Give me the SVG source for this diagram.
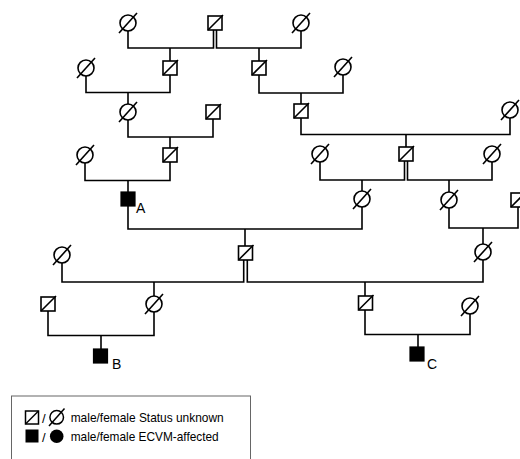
<svg xmlns="http://www.w3.org/2000/svg" xmlns:xlink="http://www.w3.org/1999/xlink" width="520" height="459" viewBox="0 0 520 459">
<style>
.ln{stroke:#000;stroke-width:1.6;fill:none}
.sym rect,.sym circle{fill:#fff;stroke:#000;stroke-width:1.6}
.sym line{stroke:#000;stroke-width:1.6}
.aff rect,.aff circle{fill:#000;stroke:#000;stroke-width:1.2}
.lbl{font-family:"Liberation Sans",Arial,sans-serif;font-size:14px;fill:#000}
.leg{font-family:"Liberation Sans",Arial,sans-serif;font-size:13px;fill:#000}
</style>
<defs>
<g id="male" class="sym"><rect x="-7" y="-7" width="14" height="14"/><line x1="-7" y1="7" x2="8" y2="-8"/></g>
<g id="female" class="sym"><circle r="8"/><line x1="-9" y1="10" x2="9" y2="-10"/></g>
<g id="maleA" class="aff"><rect x="-7" y="-7" width="14" height="14"/></g>
</defs>
<rect width="520" height="459" fill="#fff"/>
<g id="connectors" class="ln">
<path d="M128,31 V48 H213.5 V30"/>
<path d="M216.5,30 V48 H301 V31"/>
<path d="M170,48 V61"/>
<path d="M259,48 V61"/>
<path d="M86,76 V92.5 H170 V75"/>
<path d="M128,92.5 V104"/>
<path d="M259,75 V93 H343 V75"/>
<path d="M301,93 V104"/>
<path d="M128,120 V137 H213 V119"/>
<path d="M170,137 V148"/>
<path d="M301,118 V134.5 H510 V118"/>
<path d="M406,134.5 V147"/>
<path d="M85,163 V180.5 H170 V162"/>
<path d="M128,180.5 V192"/>
<path d="M320,162 V180 H404.5 V161"/>
<path d="M407.5,161 V180 H492 V162"/>
<path d="M362,180 V191"/>
<path d="M449,180 V192"/>
<path d="M128,206 V229 H362 V207"/>
<path d="M245,229 V246"/>
<path d="M449,208 V228 H518 V207"/>
<path d="M483,228 V244"/>
<path d="M62,263 V282 H243.7 V260"/>
<path d="M247.3,260 V282 H483 V260"/>
<path d="M154,282 V296"/>
<path d="M365,282 V296"/>
<path d="M48,311 V335.5 H154 V312"/>
<path d="M101,335.5 V349"/>
<path d="M365,310 V334.5 H470 V314"/>
<path d="M418,334.5 V347"/>
</g>
<g id="n-g1-f1"><use xlink:href="#female" x="128" y="23"/></g>
<g id="n-g1-m1"><use xlink:href="#male" x="215" y="23"/></g>
<g id="n-g1-f2"><use xlink:href="#female" x="301" y="23"/></g>
<g id="n-g2-f3"><use xlink:href="#female" x="86" y="68"/></g>
<g id="n-g2-m2"><use xlink:href="#male" x="170" y="68"/></g>
<g id="n-g2-m3"><use xlink:href="#male" x="259" y="68"/></g>
<g id="n-g2-f4"><use xlink:href="#female" x="343" y="67"/></g>
<g id="n-g3-f5"><use xlink:href="#female" x="128" y="112"/></g>
<g id="n-g3-m4"><use xlink:href="#male" x="213" y="112"/></g>
<g id="n-g3-m5"><use xlink:href="#male" x="301" y="111"/></g>
<g id="n-g3-f6"><use xlink:href="#female" x="510" y="110"/></g>
<g id="n-g4-f7"><use xlink:href="#female" x="85" y="155"/></g>
<g id="n-g4-m6"><use xlink:href="#male" x="170" y="155"/></g>
<g id="n-g4-f8"><use xlink:href="#female" x="320" y="154"/></g>
<g id="n-g4-m7"><use xlink:href="#male" x="406" y="154"/></g>
<g id="n-g4-f9"><use xlink:href="#female" x="492" y="154"/></g>
<g id="n-A"><use xlink:href="#maleA" x="128" y="199"/><text class="lbl" x="136" y="212.5">A</text></g>
<g id="n-g5-f10"><use xlink:href="#female" x="362" y="199"/></g>
<g id="n-g5-f11"><use xlink:href="#female" x="449" y="200"/></g>
<g id="n-g5-m8"><use xlink:href="#male" x="518" y="200"/></g>
<g id="n-g6-f12"><use xlink:href="#female" x="62" y="255"/></g>
<g id="n-g6-m9"><use xlink:href="#male" x="245.5" y="253"/></g>
<g id="n-g6-f13"><use xlink:href="#female" x="483" y="252"/></g>
<g id="n-g7-m10"><use xlink:href="#male" x="48" y="304"/></g>
<g id="n-g7-f14"><use xlink:href="#female" x="154" y="304"/></g>
<g id="n-g7-m11"><use xlink:href="#male" x="365.5" y="303"/></g>
<g id="n-g7-f15"><use xlink:href="#female" x="470" y="306"/></g>
<g id="n-B"><use xlink:href="#maleA" x="100.5" y="356"/><text class="lbl" x="112" y="369">B</text></g>
<g id="n-C"><use xlink:href="#maleA" x="417" y="354"/><text class="lbl" x="427" y="369">C</text></g>
<g id="legend">
<rect x="11.5" y="396" width="239" height="80" fill="none" stroke="#666" stroke-width="1"/>
<rect x="25.5" y="411" width="13" height="13" fill="#fff" stroke="#000" stroke-width="1.5"/>
<line x1="25.5" y1="424" x2="38.5" y2="411" stroke="#000" stroke-width="1.5"/>
<text class="leg" x="42" y="423" font-size="16">/</text>
<circle cx="56.7" cy="417.3" r="6.8" fill="#fff" stroke="#000" stroke-width="1.5"/>
<line x1="49" y1="426" x2="64.5" y2="408.5" stroke="#000" stroke-width="1.5"/>
<text class="leg" x="70.7" y="422" textLength="153" lengthAdjust="spacingAndGlyphs">male/female Status unknown</text>
<rect x="25.5" y="429.5" width="13" height="13" fill="#000"/>
<text class="leg" x="42" y="442" font-size="16">/</text>
<circle cx="56.7" cy="436.3" r="6.8" fill="#000"/>
<text class="leg" x="70.7" y="441" textLength="148" lengthAdjust="spacingAndGlyphs">male/female ECVM-affected</text>
</g>
</svg>
